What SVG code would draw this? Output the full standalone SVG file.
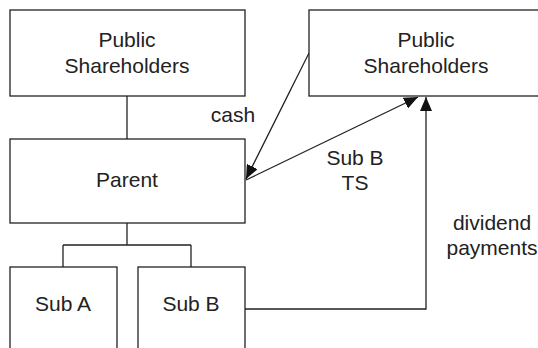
<svg xmlns="http://www.w3.org/2000/svg" width="538" height="348" viewBox="0 0 538 348">
<style>
.box{fill:#fff;stroke:#222;stroke-width:1.3}
.ln{fill:none;stroke:#222;stroke-width:1.3}
text{font-family:"Liberation Sans",Arial,sans-serif;font-size:21px;fill:#222;text-anchor:middle}
</style>
<defs>
<marker id="ah" viewBox="0 0 14 12" refX="14" refY="6" markerWidth="14" markerHeight="12" markerUnits="userSpaceOnUse" orient="auto">
<path d="M0,0 L14,6 L0,12 Z" fill="#111"/>
</marker>
</defs>
<rect width="538" height="348" fill="#fff"/>
<g id="connectors">
<path class="ln" d="M127,96 V139"/>
<path class="ln" d="M127,223 V245 M63,245 H191 M63,245 V267 M191,245 V267"/>
<path class="ln" d="M309,53 L246,179" marker-end="url(#ah)"/>
<path class="ln" d="M246,180 L418,97" marker-end="url(#ah)"/>
<path class="ln" d="M245,309 H426 V97" marker-end="url(#ah)"/>
</g>
<g id="ps1"><rect class="box" x="10" y="10" width="235" height="86"/><text x="127" y="47">Public</text><text x="127" y="73">Shareholders</text></g>
<g id="ps2"><rect class="box" x="309" y="10" width="240" height="86"/><text x="426" y="47">Public</text><text x="426" y="73">Shareholders</text></g>
<g id="parent"><rect class="box" x="10" y="139" width="235" height="84"/><text x="127" y="187">Parent</text></g>
<g id="subA"><rect class="box" x="10" y="267" width="107" height="100"/><text x="63" y="311">Sub A</text></g>
<g id="subB"><rect class="box" x="138" y="267" width="107" height="100"/><text x="191" y="311">Sub B</text></g>
<g id="labels">
<text x="233" y="122">cash</text>
<text x="355" y="165">Sub B</text>
<text x="355" y="190">TS</text>
<text x="492" y="230">dividend</text>
<text x="492" y="255">payments</text>
</g>
</svg>
